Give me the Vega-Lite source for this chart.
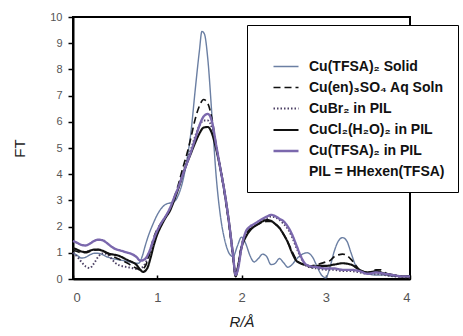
{
"$schema": "https://vega.github.io/schema/vega-lite/v6.json",
"width": 337, "height": 262,
"autosize": {"type": "none"},
"padding": {"left": 73, "top": 17, "right": 53, "bottom": 57},
"background": "white",
"config": {
  "font": "Liberation Sans",
  "view": {"stroke": "black", "strokeWidth": 2},
  "axis": {"grid": false, "domainColor": "black", "domainWidth": 2, "tickColor": "black", "tickWidth": 1.5, "labelColor": "#555555", "labelFont": "Liberation Sans", "titleFont": "Liberation Sans"}
},
"datasets": {
  "series": [
    {"k": "a", "name": "Cu(TFSA)₂ Solid"},
    {"k": "b", "name": "Cu(en)₃SO₄ Aq Soln"},
    {"k": "c", "name": "CuBr₂   in PIL"},
    {"k": "d", "name": "CuCl₂(H₂O)₂ in PIL"},
    {"k": "e", "name": "Cu(TFSA)₂ in PIL"}
  ],
  "pts": [
{"k":"a","x":0,"y":1.0},{"k":"a","x":0.05,"y":0.9},{"k":"a","x":0.1,"y":0.8},{"k":"a","x":0.15,"y":0.83},{"k":"a","x":0.2,"y":0.92},{"k":"a","x":0.25,"y":0.98},{"k":"a","x":0.3,"y":0.98},{"k":"a","x":0.35,"y":0.93},{"k":"a","x":0.4,"y":0.85},{"k":"a","x":0.45,"y":0.8},{"k":"a","x":0.5,"y":0.76},{"k":"a","x":0.55,"y":0.73},{"k":"a","x":0.6,"y":0.7},{"k":"a","x":0.65,"y":0.67},{"k":"a","x":0.7,"y":0.63},{"k":"a","x":0.75,"y":0.6},{"k":"a","x":0.78,"y":0.6},{"k":"a","x":0.82,"y":0.85},{"k":"a","x":0.86,"y":1.3},{"k":"a","x":0.9,"y":1.7},{"k":"a","x":0.95,"y":2.1},{"k":"a","x":1.0,"y":2.45},{"k":"a","x":1.05,"y":2.7},{"k":"a","x":1.1,"y":2.85},{"k":"a","x":1.15,"y":2.9},{"k":"a","x":1.2,"y":2.95},{"k":"a","x":1.25,"y":3.2},{"k":"a","x":1.3,"y":3.7},{"k":"a","x":1.35,"y":4.5},{"k":"a","x":1.4,"y":5.6},{"k":"a","x":1.45,"y":7.2},{"k":"a","x":1.5,"y":8.7},{"k":"a","x":1.53,"y":9.45},{"k":"a","x":1.56,"y":9.35},{"k":"a","x":1.6,"y":8.4},{"k":"a","x":1.65,"y":6.2},{"k":"a","x":1.7,"y":3.9},{"k":"a","x":1.75,"y":2.4},{"k":"a","x":1.8,"y":1.5},{"k":"a","x":1.85,"y":1.0},{"k":"a","x":1.9,"y":0.85},{"k":"a","x":1.95,"y":1.25},{"k":"a","x":2.0,"y":1.6},{"k":"a","x":2.05,"y":1.35},{"k":"a","x":2.1,"y":0.9},{"k":"a","x":2.15,"y":0.65},{"k":"a","x":2.2,"y":0.78},{"k":"a","x":2.25,"y":0.95},{"k":"a","x":2.3,"y":0.85},{"k":"a","x":2.35,"y":0.55},{"k":"a","x":2.4,"y":0.6},{"k":"a","x":2.45,"y":0.78},{"k":"a","x":2.5,"y":0.62},{"k":"a","x":2.55,"y":0.45},{"k":"a","x":2.6,"y":0.55},{"k":"a","x":2.65,"y":0.75},{"k":"a","x":2.7,"y":0.9},{"k":"a","x":2.78,"y":1.0},{"k":"a","x":2.85,"y":0.8},{"k":"a","x":2.9,"y":0.45},{"k":"a","x":2.95,"y":0.15},{"k":"a","x":3.0,"y":0.05},{"k":"a","x":3.05,"y":0.45},{"k":"a","x":3.1,"y":1.05},{"k":"a","x":3.15,"y":1.45},{"k":"a","x":3.2,"y":1.58},{"k":"a","x":3.25,"y":1.45},{"k":"a","x":3.3,"y":1.0},{"k":"a","x":3.35,"y":0.55},{"k":"a","x":3.4,"y":0.35},{"k":"a","x":3.5,"y":0.2},{"k":"a","x":3.6,"y":0.15},{"k":"a","x":3.7,"y":0.15},{"k":"a","x":3.8,"y":0.1},{"k":"a","x":3.9,"y":0.1},{"k":"a","x":4.0,"y":0.1},

{"k":"c","x":0,"y":1.0},{"k":"c","x":0.05,"y":0.85},{"k":"c","x":0.1,"y":0.65},{"k":"c","x":0.15,"y":0.48},{"k":"c","x":0.2,"y":0.42},{"k":"c","x":0.25,"y":0.6},{"k":"c","x":0.3,"y":0.85},{"k":"c","x":0.35,"y":0.98},{"k":"c","x":0.4,"y":0.95},{"k":"c","x":0.45,"y":0.8},{"k":"c","x":0.5,"y":0.62},{"k":"c","x":0.55,"y":0.52},{"k":"c","x":0.6,"y":0.48},{"k":"c","x":0.65,"y":0.45},{"k":"c","x":0.7,"y":0.42},{"k":"c","x":0.75,"y":0.38},{"k":"c","x":0.8,"y":0.4},{"k":"c","x":0.85,"y":0.55},{"k":"c","x":0.9,"y":0.9},{"k":"c","x":0.95,"y":1.4},{"k":"c","x":1.0,"y":1.8},{"k":"c","x":1.05,"y":2.1},{"k":"c","x":1.1,"y":2.35},{"k":"c","x":1.15,"y":2.65},{"k":"c","x":1.2,"y":3.05},{"k":"c","x":1.25,"y":3.5},{"k":"c","x":1.3,"y":4.0},{"k":"c","x":1.35,"y":4.5},{"k":"c","x":1.4,"y":4.95},{"k":"c","x":1.45,"y":5.45},{"k":"c","x":1.5,"y":5.85},{"k":"c","x":1.55,"y":6.05},{"k":"c","x":1.6,"y":6.05},{"k":"c","x":1.65,"y":5.75},{"k":"c","x":1.7,"y":5.0},{"k":"c","x":1.75,"y":4.2},{"k":"c","x":1.8,"y":3.3},{"k":"c","x":1.85,"y":2.2},{"k":"c","x":1.9,"y":0.9},{"k":"c","x":1.93,"y":0.15},{"k":"c","x":1.96,"y":0.45},{"k":"c","x":2.0,"y":1.2},{"k":"c","x":2.05,"y":1.75},{"k":"c","x":2.1,"y":1.95},{"k":"c","x":2.15,"y":2.05},{"k":"c","x":2.2,"y":2.15},{"k":"c","x":2.25,"y":2.25},{"k":"c","x":2.3,"y":2.32},{"k":"c","x":2.35,"y":2.38},{"k":"c","x":2.4,"y":2.35},{"k":"c","x":2.45,"y":2.25},{"k":"c","x":2.5,"y":2.1},{"k":"c","x":2.55,"y":1.9},{"k":"c","x":2.6,"y":1.6},{"k":"c","x":2.65,"y":1.2},{"k":"c","x":2.7,"y":0.85},{"k":"c","x":2.75,"y":0.55},{"k":"c","x":2.8,"y":0.45},{"k":"c","x":2.9,"y":0.4},{"k":"c","x":3.0,"y":0.35},{"k":"c","x":3.1,"y":0.35},{"k":"c","x":3.2,"y":0.3},{"k":"c","x":3.3,"y":0.3},{"k":"c","x":3.4,"y":0.25},{"k":"c","x":3.5,"y":0.2},{"k":"c","x":3.6,"y":0.2},{"k":"c","x":3.7,"y":0.15},{"k":"c","x":3.8,"y":0.1},{"k":"c","x":3.9,"y":0.08},{"k":"c","x":4.0,"y":0.05},

{"k":"b","x":0,"y":1.1},{"k":"b","x":0.05,"y":1.05},{"k":"b","x":0.1,"y":1.0},{"k":"b","x":0.15,"y":1.0},{"k":"b","x":0.2,"y":1.05},{"k":"b","x":0.25,"y":1.1},{"k":"b","x":0.3,"y":1.12},{"k":"b","x":0.35,"y":1.1},{"k":"b","x":0.4,"y":1.0},{"k":"b","x":0.45,"y":0.9},{"k":"b","x":0.5,"y":0.82},{"k":"b","x":0.55,"y":0.75},{"k":"b","x":0.6,"y":0.68},{"k":"b","x":0.65,"y":0.6},{"k":"b","x":0.7,"y":0.5},{"k":"b","x":0.75,"y":0.42},{"k":"b","x":0.8,"y":0.35},{"k":"b","x":0.85,"y":0.45},{"k":"b","x":0.9,"y":0.85},{"k":"b","x":0.95,"y":1.5},{"k":"b","x":1.0,"y":1.9},{"k":"b","x":1.05,"y":2.15},{"k":"b","x":1.1,"y":2.4},{"k":"b","x":1.15,"y":2.65},{"k":"b","x":1.2,"y":3.1},{"k":"b","x":1.25,"y":3.6},{"k":"b","x":1.3,"y":4.2},{"k":"b","x":1.35,"y":4.75},{"k":"b","x":1.4,"y":5.4},{"k":"b","x":1.45,"y":6.1},{"k":"b","x":1.5,"y":6.6},{"k":"b","x":1.55,"y":6.85},{"k":"b","x":1.6,"y":6.7},{"k":"b","x":1.65,"y":6.1},{"k":"b","x":1.7,"y":5.1},{"k":"b","x":1.75,"y":4.2},{"k":"b","x":1.8,"y":3.2},{"k":"b","x":1.85,"y":2.1},{"k":"b","x":1.9,"y":0.8},{"k":"b","x":1.93,"y":0.1},{"k":"b","x":1.96,"y":0.5},{"k":"b","x":2.0,"y":1.3},{"k":"b","x":2.05,"y":1.7},{"k":"b","x":2.1,"y":1.9},{"k":"b","x":2.15,"y":2.0},{"k":"b","x":2.2,"y":2.1},{"k":"b","x":2.25,"y":2.15},{"k":"b","x":2.3,"y":2.2},{"k":"b","x":2.35,"y":2.2},{"k":"b","x":2.4,"y":2.1},{"k":"b","x":2.45,"y":1.95},{"k":"b","x":2.5,"y":1.7},{"k":"b","x":2.55,"y":1.4},{"k":"b","x":2.6,"y":1.05},{"k":"b","x":2.65,"y":0.75},{"k":"b","x":2.7,"y":0.6},{"k":"b","x":2.8,"y":0.5},{"k":"b","x":2.9,"y":0.55},{"k":"b","x":3.0,"y":0.65},{"k":"b","x":3.05,"y":0.7},{"k":"b","x":3.1,"y":0.85},{"k":"b","x":3.15,"y":0.92},{"k":"b","x":3.2,"y":0.95},{"k":"b","x":3.25,"y":0.9},{"k":"b","x":3.3,"y":0.75},{"k":"b","x":3.35,"y":0.55},{"k":"b","x":3.4,"y":0.35},{"k":"b","x":3.5,"y":0.25},{"k":"b","x":3.6,"y":0.35},{"k":"b","x":3.65,"y":0.35},{"k":"b","x":3.7,"y":0.25},{"k":"b","x":3.8,"y":0.15},{"k":"b","x":3.9,"y":0.1},{"k":"b","x":4.0,"y":0.1},

{"k":"d","x":0,"y":1.18},{"k":"d","x":0.05,"y":1.12},{"k":"d","x":0.1,"y":1.05},{"k":"d","x":0.15,"y":1.03},{"k":"d","x":0.2,"y":1.08},{"k":"d","x":0.25,"y":1.12},{"k":"d","x":0.3,"y":1.12},{"k":"d","x":0.35,"y":1.08},{"k":"d","x":0.4,"y":1.0},{"k":"d","x":0.45,"y":0.95},{"k":"d","x":0.5,"y":0.92},{"k":"d","x":0.55,"y":0.88},{"k":"d","x":0.6,"y":0.8},{"k":"d","x":0.65,"y":0.72},{"k":"d","x":0.7,"y":0.65},{"k":"d","x":0.75,"y":0.55},{"k":"d","x":0.8,"y":0.35},{"k":"d","x":0.83,"y":0.27},{"k":"d","x":0.88,"y":0.4},{"k":"d","x":0.92,"y":0.8},{"k":"d","x":0.96,"y":1.3},{"k":"d","x":1.0,"y":1.7},{"k":"d","x":1.05,"y":2.05},{"k":"d","x":1.1,"y":2.35},{"k":"d","x":1.15,"y":2.6},{"k":"d","x":1.2,"y":3.0},{"k":"d","x":1.25,"y":3.45},{"k":"d","x":1.3,"y":3.95},{"k":"d","x":1.35,"y":4.4},{"k":"d","x":1.4,"y":4.8},{"k":"d","x":1.45,"y":5.2},{"k":"d","x":1.5,"y":5.55},{"k":"d","x":1.55,"y":5.78},{"k":"d","x":1.6,"y":5.8},{"k":"d","x":1.65,"y":5.55},{"k":"d","x":1.7,"y":4.95},{"k":"d","x":1.75,"y":4.2},{"k":"d","x":1.8,"y":3.3},{"k":"d","x":1.85,"y":2.2},{"k":"d","x":1.9,"y":0.9},{"k":"d","x":1.93,"y":0.1},{"k":"d","x":1.96,"y":0.5},{"k":"d","x":2.0,"y":1.2},{"k":"d","x":2.05,"y":1.6},{"k":"d","x":2.1,"y":1.85},{"k":"d","x":2.15,"y":2.0},{"k":"d","x":2.2,"y":2.1},{"k":"d","x":2.25,"y":2.2},{"k":"d","x":2.3,"y":2.25},{"k":"d","x":2.35,"y":2.22},{"k":"d","x":2.4,"y":2.1},{"k":"d","x":2.45,"y":1.95},{"k":"d","x":2.5,"y":1.7},{"k":"d","x":2.55,"y":1.4},{"k":"d","x":2.6,"y":1.0},{"k":"d","x":2.65,"y":0.7},{"k":"d","x":2.7,"y":0.6},{"k":"d","x":2.75,"y":0.55},{"k":"d","x":2.8,"y":0.5},{"k":"d","x":2.85,"y":0.45},{"k":"d","x":2.9,"y":0.5},{"k":"d","x":3.0,"y":0.5},{"k":"d","x":3.1,"y":0.55},{"k":"d","x":3.2,"y":0.6},{"k":"d","x":3.3,"y":0.55},{"k":"d","x":3.4,"y":0.35},{"k":"d","x":3.5,"y":0.25},{"k":"d","x":3.6,"y":0.3},{"k":"d","x":3.7,"y":0.2},{"k":"d","x":3.8,"y":0.15},{"k":"d","x":3.9,"y":0.1},{"k":"d","x":4.0,"y":0.1},

{"k":"e","x":0,"y":1.45},{"k":"e","x":0.05,"y":1.38},{"k":"e","x":0.1,"y":1.3},{"k":"e","x":0.15,"y":1.28},{"k":"e","x":0.2,"y":1.35},{"k":"e","x":0.25,"y":1.45},{"k":"e","x":0.3,"y":1.5},{"k":"e","x":0.35,"y":1.48},{"k":"e","x":0.4,"y":1.38},{"k":"e","x":0.45,"y":1.25},{"k":"e","x":0.5,"y":1.15},{"k":"e","x":0.55,"y":1.1},{"k":"e","x":0.6,"y":1.05},{"k":"e","x":0.65,"y":1.0},{"k":"e","x":0.7,"y":0.95},{"k":"e","x":0.75,"y":0.85},{"k":"e","x":0.8,"y":0.7},{"k":"e","x":0.85,"y":0.75},{"k":"e","x":0.9,"y":1.0},{"k":"e","x":0.95,"y":1.45},{"k":"e","x":1.0,"y":1.85},{"k":"e","x":1.05,"y":2.15},{"k":"e","x":1.1,"y":2.4},{"k":"e","x":1.15,"y":2.7},{"k":"e","x":1.2,"y":3.1},{"k":"e","x":1.25,"y":3.5},{"k":"e","x":1.3,"y":3.95},{"k":"e","x":1.35,"y":4.4},{"k":"e","x":1.4,"y":4.85},{"k":"e","x":1.45,"y":5.35},{"k":"e","x":1.5,"y":5.85},{"k":"e","x":1.55,"y":6.2},{"k":"e","x":1.6,"y":6.3},{"k":"e","x":1.65,"y":6.0},{"k":"e","x":1.7,"y":5.1},{"k":"e","x":1.75,"y":4.2},{"k":"e","x":1.8,"y":3.3},{"k":"e","x":1.85,"y":2.2},{"k":"e","x":1.9,"y":0.9},{"k":"e","x":1.93,"y":0.15},{"k":"e","x":1.96,"y":0.4},{"k":"e","x":2.0,"y":1.2},{"k":"e","x":2.05,"y":1.8},{"k":"e","x":2.1,"y":2.0},{"k":"e","x":2.15,"y":2.1},{"k":"e","x":2.2,"y":2.2},{"k":"e","x":2.25,"y":2.3},{"k":"e","x":2.3,"y":2.38},{"k":"e","x":2.35,"y":2.45},{"k":"e","x":2.4,"y":2.4},{"k":"e","x":2.45,"y":2.3},{"k":"e","x":2.5,"y":2.2},{"k":"e","x":2.55,"y":2.0},{"k":"e","x":2.6,"y":1.7},{"k":"e","x":2.65,"y":1.3},{"k":"e","x":2.7,"y":0.9},{"k":"e","x":2.75,"y":0.6},{"k":"e","x":2.8,"y":0.5},{"k":"e","x":2.9,"y":0.45},{"k":"e","x":3.0,"y":0.4},{"k":"e","x":3.1,"y":0.4},{"k":"e","x":3.2,"y":0.35},{"k":"e","x":3.3,"y":0.35},{"k":"e","x":3.4,"y":0.3},{"k":"e","x":3.5,"y":0.2},{"k":"e","x":3.6,"y":0.25},{"k":"e","x":3.7,"y":0.2},{"k":"e","x":3.8,"y":0.15},{"k":"e","x":3.9,"y":0.1},{"k":"e","x":4.0,"y":0.1}
  ]
},
"data": {"name": "pts"},
"transform": [
  {"lookup": "k", "from": {"data": {"name": "series"}, "key": "k", "fields": ["name"]}}
],
"mark": {"type": "line", "interpolate": "monotone"},
"encoding": {
  "x": {"field": "x", "type": "quantitative", "scale": {"domain": [0, 4], "nice": false},
        "axis": {"values": [0, 1, 2, 3, 4], "tickSize": -4, "labelPadding": 16, "labelFontSize": 13, "format": "d",
                 "title": "R/Å", "titleFontSize": 15, "titleFontStyle": "italic", "titleFontWeight": "normal", "titleColor": "#222222", "titlePadding": 10}},
  "y": {"field": "y", "type": "quantitative", "scale": {"domain": [0, 10], "nice": false},
        "axis": {"values": [0,1,2,3,4,5,6,7,8,9,10], "tickSize": 5, "labelPadding": 6, "labelFontSize": 11, "format": "d",
                 "title": "FT", "titleFontSize": 15, "titleFontWeight": "normal", "titleColor": "#222222", "titlePadding": 22}},
  "color": {"field": "name", "type": "nominal",
    "scale": {"domain": ["Cu(TFSA)₂ Solid", "Cu(en)₃SO₄ Aq Soln", "CuBr₂   in PIL", "CuCl₂(H₂O)₂ in PIL", "Cu(TFSA)₂ in PIL", "PIL = HHexen(TFSA)"],
              "range": ["#6b7fa3", "#111111", "#4b3f63", "#111111", "#7b68ad", "transparent"]},
    "legend": {"orient": "none", "legendX": 174, "legendY": 8, "title": " ", "titleFontSize": 12, "titlePadding": 3,
               "padding": 13, "strokeColor": "black", "fillColor": "white", "symbolType": "stroke", "symbolSize": 625, "symbolOffset": 12,
               "labelFont": "Liberation Sans", "labelFontWeight": "bold", "labelFontSize": 14, "labelColor": "#111111", "labelOffset": 9, "labelLimit": 300,
               "rowPadding": 0}},
  "strokeDash": {"field": "name", "type": "nominal",
    "scale": {"domain": ["Cu(TFSA)₂ Solid", "Cu(en)₃SO₄ Aq Soln", "CuBr₂   in PIL", "CuCl₂(H₂O)₂ in PIL", "Cu(TFSA)₂ in PIL", "PIL = HHexen(TFSA)"],
              "range": [[1, 0], [7, 4], [1.5, 2], [1, 0], [1, 0], [1, 0]]}},
  "strokeWidth": {"field": "name", "type": "nominal",
    "scale": {"domain": ["Cu(TFSA)₂ Solid", "Cu(en)₃SO₄ Aq Soln", "CuBr₂   in PIL", "CuCl₂(H₂O)₂ in PIL", "Cu(TFSA)₂ in PIL", "PIL = HHexen(TFSA)"],
              "range": [1.4, 2.6, 2.2, 2.4, 2.4, 1]}}
}
}
